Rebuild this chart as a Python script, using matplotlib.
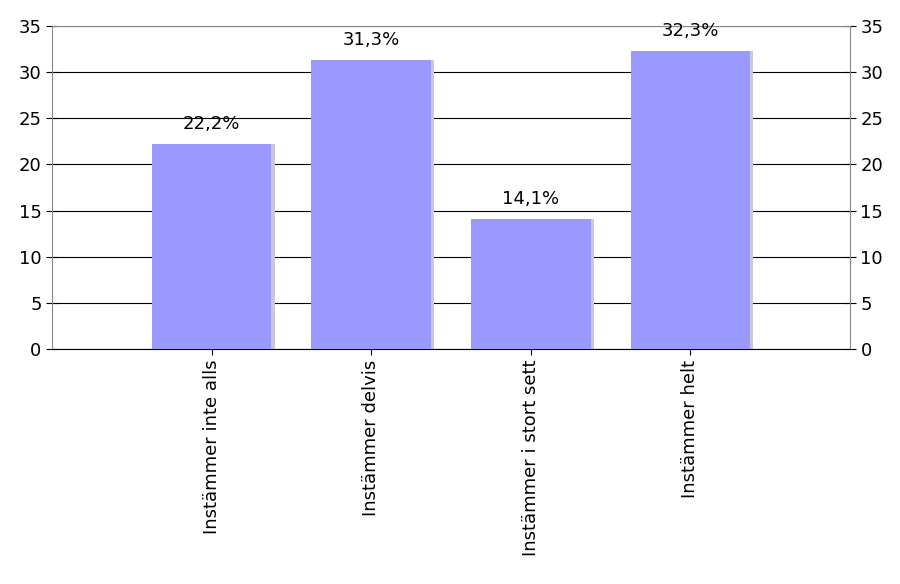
import matplotlib
matplotlib.use("Agg")
import matplotlib.pyplot as plt

categories = ["Instämmer inte alls", "Instämmer delvis", "Instämmer i stort sett", "Instämmer helt"]
values = [22.2, 31.3, 14.1, 32.3]
labels = ["22,2%", "31,3%", "14,1%", "32,3%"]

fig = plt.figure(figsize=(9, 5.84), dpi=100)
ax = fig.add_axes([52/900, 1-349/584, 798/900, 323/584])
pos = [1, 2, 3, 4]
ax.bar([p+0.02 for p in pos], values, width=0.75, color="#c8c8d8", zorder=2)
ax.bar(pos, values, width=0.75, color="#9999ff", zorder=3)
for p, v, l in zip(pos, values, labels):
    ax.text(p, v+1.2, l, ha="center", va="bottom", fontsize=13)
ax.set_xlim(0, 5)
ax.set_ylim(0, 35)
ax.set_yticks(range(0, 36, 5))
ax.yaxis.grid(True, color="black", linewidth=0.8, zorder=1)
ax.set_axisbelow(True)
ax.set_xticks(pos)
ax.set_xticklabels(categories, rotation=90, fontsize=13)
ax.tick_params(axis="y", labelsize=13, direction="inout", length=8, right=True, labelright=True)
ax.tick_params(axis="x", direction="inout", length=8)
for s in ax.spines.values():
    s.set_color("#888888")
ax.spines["bottom"].set_color("black")
fig.savefig("out.png", dpi=100)
